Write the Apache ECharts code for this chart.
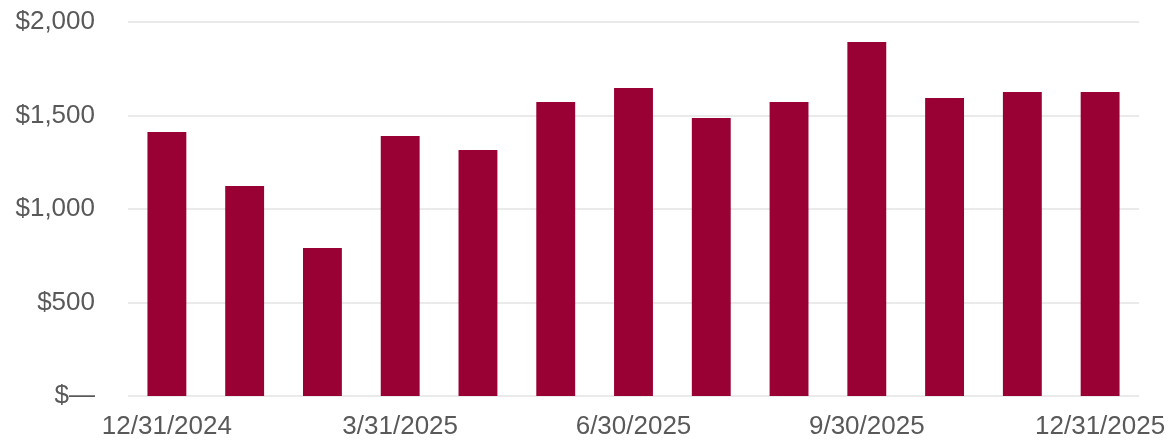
<!DOCTYPE html>
<html>
<head>
<meta charset="utf-8">
<script src="https://cdn.jsdelivr.net/npm/echarts@6/dist/echarts.min.js"></script>
<style>
  html, body { margin: 0; padding: 0; background: #fff; }
  #chart { width: 1171px; height: 441px; }
</style>
</head>
<body>
<div id="chart"></div>
<script>
// 月末日期
var months = ['12/31/2024', '1/31/2025', '2/28/2025', '3/31/2025', '4/30/2025', '5/31/2025',
  '6/30/2025', '7/31/2025', '8/31/2025', '9/30/2025', '10/31/2025', '11/30/2025', '12/31/2025'];
// 数值（美元）
var values = [1412, 1123, 791, 1390, 1316, 1572, 1647, 1487, 1572, 1893, 1594, 1626, 1626];
var yTicks = [0, 500, 1000, 1500, 2000];

var chart = echarts.init(document.getElementById('chart'));
var option = {
  animation: false,
  grid: { left: 128, right: 32, top: 22, bottom: 45 },
  xAxis: {
    type: 'category',
    data: months,
    axisLine: { show: false },
    axisTick: { show: false },
    axisLabel: {
      interval: 2,
      margin: 18,
      fontSize: 26,
      color: '#595959',
      fontFamily: 'Liberation Sans, Arial, sans-serif'
    }
  },
  yAxis: {
    type: 'value',
    min: yTicks[0],
    max: yTicks[yTicks.length - 1],
    interval: 500,
    axisLine: { show: false },
    axisTick: { show: false },
    splitLine: { lineStyle: { color: '#e3e3e3', width: 1.5 } },
    axisLabel: {
      margin: 33,
      fontSize: 26,
      color: '#595959',
      fontFamily: 'Liberation Sans, Arial, sans-serif',
      formatter: function (v) {
        if (v === 0) return '$\u2014';
        return '$' + v.toLocaleString('en-US');
      }
    }
  },
  series: [{
    type: 'bar',
    data: values,
    barWidth: '50%',
    itemStyle: { color: '#990033' }
  }]
};
chart.setOption(option);
</script>
</body>
</html>
